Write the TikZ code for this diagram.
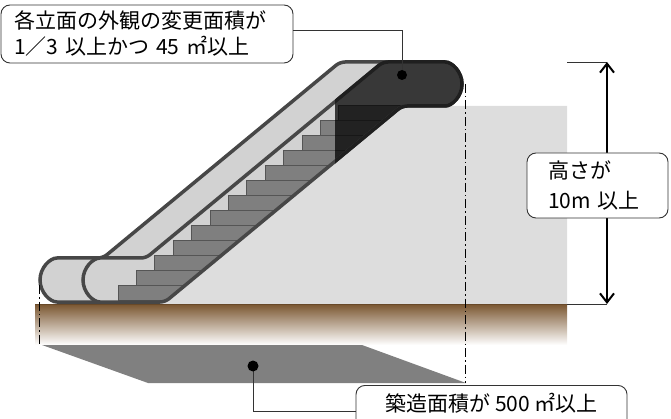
\documentclass[tikz,border=0pt]{standalone}
\usepackage{fontspec}
\setmainfont{Noto Sans CJK JP}
\usetikzlibrary{arrows.meta}
\definecolor{panelfill}{HTML}{D2D2D2}
\definecolor{paneledge}{HTML}{474747}
\definecolor{stepfill}{HTML}{7F7F7F}
\definecolor{stepedge}{HTML}{555555}
\definecolor{bldg}{HTML}{DDDDDD}
\definecolor{earth}{HTML}{7A5630}
\definecolor{shadowgray}{HTML}{808080}
\definecolor{linegray}{HTML}{333333}
\tikzset{
  escpanel/.style={rounded corners=5pt, insert path={(82,-258) -- (103,-258) -- (340,-62) -- (397,-62) arc[start angle=90,end angle=-90,radius=22] -- (359,-106) -- (122,-302) -- (62,-302) arc[start angle=270,end angle=90,radius=22] -- cycle}},
  labelbox/.style={draw=linegray, line width=0.9pt, rounded corners=9pt, fill=white, font=\fontsize{21}{26}\selectfont},
  leader/.style={draw=linegray, line width=0.9pt},
  centerline/.style={draw=black, line width=0.7pt, dash pattern=on 9pt off 3pt on 1.5pt off 3pt},
  barb/.style={line width=2pt, {Straight Barb[length=9pt,width=14pt]}-{Straight Barb[length=9pt,width=14pt]}},
}
\begin{document}
\begin{tikzpicture}[x=1pt,y=1pt]
\useasboundingbox (0,0) rectangle (671,-419);
% building
\fill[bldg] (396,-106) -- (567,-106) -- (567,-305) -- (158,-305) -- cycle;
% ground
\shade[top color=earth, bottom color=white] (35,-304) rectangle (567,-345);
\draw[earth!85!black, line width=0.6pt] (35,-304.3) -- (567,-304.3);
% shadow of the footprint
\fill[shadowgray] (42,-345) -- (362,-345) -- (466,-383) -- (148,-383) -- cycle;
% back balustrade
\fill[panelfill, escpanel];
\draw[paneledge, line width=3.5pt, escpanel];
% front balustrade
\begin{scope}[xshift=43pt]
  \begin{scope}
    \path[clip, escpanel];
    \fill[panelfill] (0,0) rectangle (500,-419);
    \foreach \i in {0,...,12} {
      \pgfmathsetmacro\sx{75+18.4*\i}
      \pgfmathsetmacro\sy{-285+15*\i}
      \filldraw[fill=stepfill, draw=stepedge, line width=0.8pt] (\sx,\sy) rectangle (\sx+170,\sy-15);
    }
    \fill[black, opacity=0.73] (292,0) rectangle (500,-419);
  \end{scope}
  \draw[paneledge, line width=3.5pt, escpanel];
  \begin{scope}
    \clip (292,0) rectangle (500,-419);
    \draw[black!88, line width=3.5pt, escpanel];
  \end{scope}
\end{scope}
% centre lines
\coordinate (clRtop) at (465,-84);
\coordinate (clRbot) at (465,-383);
\coordinate (clLtop) at (39,-285);
\coordinate (clLbot) at (39,-345);
\draw[centerline] (clRtop) -- (clRbot);
\draw[centerline] (clLtop) -- (clLbot);
% height dimension
\coordinate (htop) at (607,-62);
\coordinate (hbot) at (607,-304);
\coordinate (tickTop) at (567,-62);
\coordinate (tickBot) at (567,-304);
\draw[leader] (tickTop) -- (htop);
\draw[leader] (tickBot) -- (hbot);
\draw[barb] (htop) -- (hbot);
% labels
\node[labelbox, minimum width=292pt, minimum height=58pt, text width=266pt, align=left, inner xsep=13pt] (topbox) at (147,-34) {\raisebox{-2pt}{各立面の外観の変更面積が}\\\raisebox{-2pt}{1／3 以上かつ 45 ㎡以上}};
\node[labelbox, font=\fontsize{21}{30}\selectfont, text width=99pt, align=left, inner xsep=21pt, minimum height=65pt] (hbox) at (597.5,-185.5) {高さが\\10m 以上};
\node[labelbox, minimum width=271pt, text height=22pt, text depth=40pt, inner ysep=4pt, anchor=north] (areabox) at (491.5,-385) {築造面積が 500 ㎡以上};
% leaders and dots
\coordinate (dotA) at (402,-75);
\coordinate (dotB) at (253,-366);
\draw[leader] ([yshift=4pt]topbox.east) -| (dotA);
\draw[leader] (dotB) |- (areabox.base west);
\fill (dotA) circle[radius=5pt];
\fill (dotB) circle[radius=5.5pt];
\end{tikzpicture}
\end{document}
